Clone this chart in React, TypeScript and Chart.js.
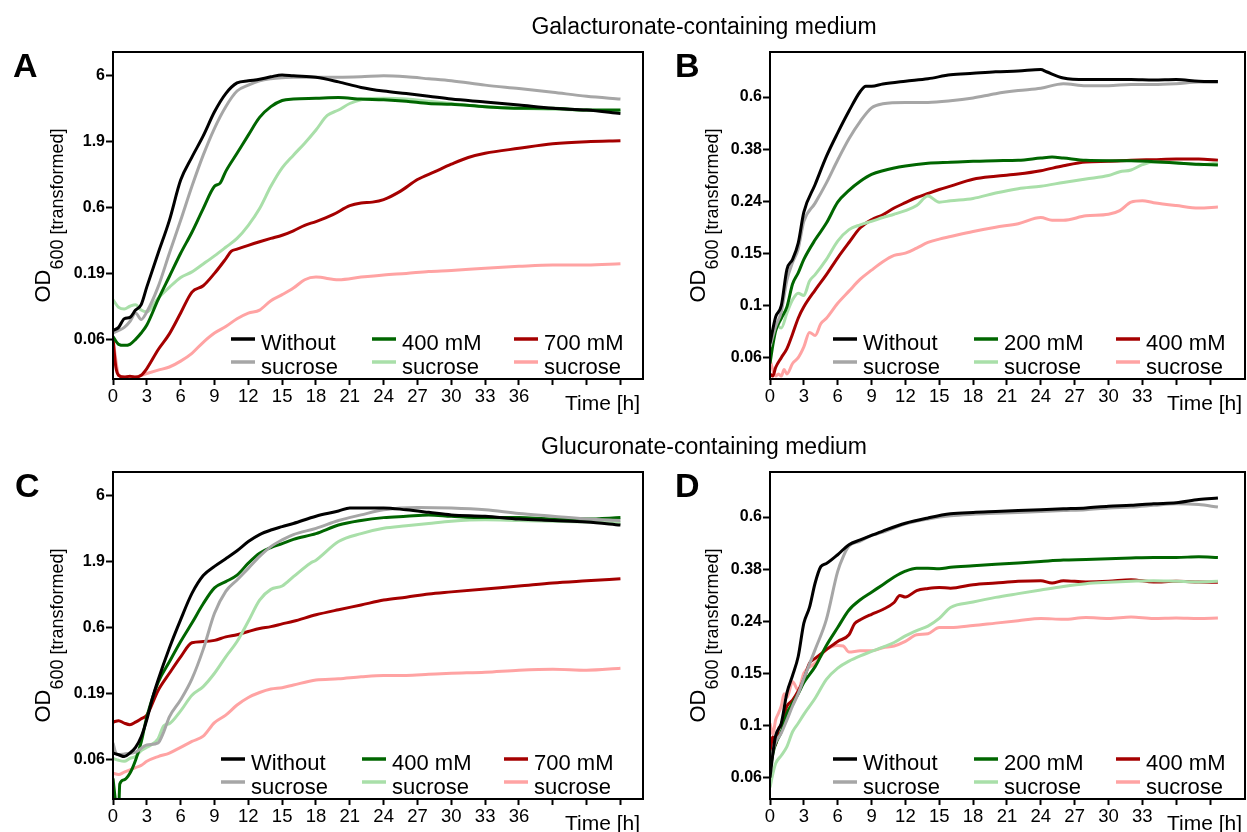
import React, { useEffect, useRef } from 'react';
import { Chart, registerables } from 'chart.js';

Chart.register(...registerables);

type Pt = [number, number];

const FONT = '"Liberation Sans", Arial, Helvetica, sans-serif';

// ---------- labels & ticks ----------
const labelsGal = ['Without', 'sucrose', '400 mM', 'sucrose', '700 mM', 'sucrose'];
const labelsGalB = ['Without', 'sucrose', '200 mM', 'sucrose', '400 mM', 'sucrose'];
const labelsGlc = ['Without', 'sucrose', '400 mM', 'sucrose', '700 mM', 'sucrose'];
const labelsGlcD = ['Without', 'sucrose', '200 mM', 'sucrose', '400 mM', 'sucrose'];

const seriesColors = ['#000000', '#a6a6a6', '#006600', '#a9dfa9', '#a50000', '#ffa3a3'];

const xTicksAC = [0, 3, 6, 9, 12, 15, 18, 21, 24, 27, 30, 33, 36, 39, 42, 45];
const xTicksBD = [0, 3, 6, 9, 12, 15, 18, 21, 24, 27, 30, 33, 36, 39];

const yTicksAC = [0.06, 0.1897, 0.6, 1.897, 6];
const yTickLabelsAC = ['0.06', '0.19', '0.6', '1.9', '6'];
const yTicksBD = [0.06, 0.0951, 0.1507, 0.2389, 0.3786, 0.6];
const yTickLabelsBD = ['0.06', '0.1', '0.15', '0.24', '0.38', '0.6'];

// ---------- Panel A (galacturonate, 400/700 mM) ----------
const A_without: Pt[] = [[0,0.070],[0.5,0.074],[1,0.086],[1.5,0.088],[2,0.10],[2.5,0.11],[3,0.15],[4,0.27],[5,0.48],[6,0.97],[7,1.45],[8,2.1],[9,3.2],[10,4.4],[11,5.3],[12,5.5],[13,5.65],[14,5.9],[15,6.1],[16,6.0],[18,5.85],[20,5.4],[22,4.9],[24,4.6],[26,4.4],[28,4.2],[30,4.0],[33,3.8],[36,3.6],[39,3.4],[42,3.3],[45,3.1]];
const A_withoutB: Pt[] = [[0,0.067],[0.5,0.07],[1,0.074],[1.5,0.082],[2,0.095],[2.5,0.085],[3,0.097],[4,0.15],[5,0.27],[6,0.48],[7,0.87],[8,1.5],[9,2.4],[10,3.5],[11,4.6],[12,5.1],[13,5.5],[14,5.7],[15,5.8],[16,5.85],[18,5.85],[20,5.85],[22,5.9],[24,6.0],[26,5.9],[28,5.7],[30,5.5],[33,5.1],[36,4.8],[39,4.5],[42,4.2],[45,4.0]];
const A_mid: Pt[] = [[0,0.063],[0.5,0.055],[1,0.054],[1.5,0.055],[2,0.06],[2.5,0.067],[3,0.077],[4,0.12],[5,0.18],[6,0.27],[7,0.39],[8,0.59],[9,0.87],[9.5,0.92],[10,1.13],[11,1.55],[12,2.13],[13,2.9],[14,3.5],[15,3.9],[16,4.0],[18,4.05],[20,4.1],[22,4.0],[24,3.95],[26,3.85],[28,3.7],[30,3.65],[33,3.5],[36,3.4],[39,3.4],[42,3.3],[45,3.3]];
const A_midB: Pt[] = [[0,0.12],[0.5,0.105],[1,0.102],[1.5,0.107],[2,0.11],[2.5,0.10],[3,0.097],[4,0.123],[5,0.149],[6,0.177],[7,0.195],[8,0.224],[9,0.258],[10,0.30],[11,0.35],[12,0.44],[13,0.59],[14,0.87],[15,1.2],[16,1.5],[17,1.85],[18,2.33],[19,3.0],[20,3.3],[21,3.7],[22,3.95],[24,4.05],[26,4.0],[28,3.85],[30,3.7],[33,3.5],[36,3.4],[39,3.35],[42,3.3],[45,3.2]];
const A_high: Pt[] = [[0,0.061],[0.25,0.037],[0.5,0.032],[1,0.031],[1.5,0.0315],[2,0.031],[2.5,0.032],[3,0.036],[4,0.05],[5,0.066],[6,0.095],[7,0.137],[8,0.153],[9,0.19],[10,0.245],[10.5,0.28],[11,0.29],[12,0.31],[13,0.33],[14,0.35],[15,0.37],[16,0.4],[17,0.44],[18,0.47],[19.5,0.53],[21,0.62],[22,0.65],[23,0.66],[24,0.69],[25.5,0.8],[27,0.98],[28.5,1.12],[30,1.28],[31.5,1.44],[33,1.55],[36,1.69],[39,1.83],[42,1.9],[45,1.93]];
const A_highB: Pt[] = [[0,0.061],[0.25,0.042],[0.5,0.032],[1,0.031],[1.5,0.031],[2,0.031],[2.5,0.032],[3,0.033],[4,0.035],[5,0.037],[6,0.041],[7,0.047],[8,0.057],[9,0.067],[10,0.075],[11,0.086],[12,0.095],[13,0.10],[14,0.118],[15,0.131],[16,0.147],[17,0.17],[18,0.178],[20,0.17],[22,0.178],[24,0.185],[26,0.19],[28,0.196],[30,0.2],[33,0.208],[36,0.215],[39,0.22],[42,0.22],[45,0.225]];

// ---------- Panel B (galacturonate, 200/400 mM) ----------
const B_without: Pt[] = [[0,0.068],[0.5,0.086],[1,0.095],[1.5,0.131],[2,0.143],[2.5,0.165],[3,0.217],[4,0.277],[5,0.355],[6,0.437],[7,0.53],[8,0.63],[8.5,0.66],[9,0.66],[10,0.673],[12,0.69],[14,0.705],[16,0.73],[18,0.74],[20,0.75],[22,0.755],[24,0.765],[24.5,0.75],[26,0.71],[28,0.70],[30,0.70],[32,0.70],[34,0.697],[36,0.70],[38,0.69],[39.7,0.688]];
const B_withoutB: Pt[] = [[0,0.066],[0.5,0.079],[1,0.09],[1.5,0.119],[2,0.139],[2.5,0.157],[3,0.2],[4,0.235],[5,0.281],[6,0.344],[7,0.415],[8,0.484],[9,0.545],[10,0.565],[12,0.572],[14,0.572],[16,0.58],[18,0.595],[20,0.618],[22,0.635],[24,0.648],[26,0.675],[28,0.663],[30,0.663],[32,0.67],[34,0.67],[36,0.675],[38,0.685],[39.7,0.683]];
const B_mid: Pt[] = [[0,0.057],[0.25,0.067],[0.5,0.076],[1,0.085],[1.5,0.094],[2,0.115],[2.5,0.127],[3,0.143],[4,0.17],[5,0.197],[6,0.237],[7,0.263],[8,0.285],[9,0.303],[10,0.313],[12,0.326],[14,0.334],[16,0.337],[18,0.34],[20,0.342],[22,0.343],[24,0.35],[25,0.353],[26,0.35],[28,0.343],[30,0.342],[32,0.342],[34,0.339],[36,0.335],[38,0.331],[39.7,0.329]];
const B_midB: Pt[] = [[0,0.062],[0.25,0.07],[0.5,0.082],[0.75,0.079],[1,0.078],[1.5,0.089],[2,0.10],[2.5,0.106],[3,0.104],[3.5,0.118],[4,0.125],[5,0.143],[6,0.168],[7,0.186],[8,0.194],[9,0.20],[10,0.207],[11,0.213],[12,0.22],[13,0.23],[14,0.25],[15,0.237],[16,0.24],[18,0.245],[20,0.257],[22,0.267],[24,0.273],[26,0.282],[28,0.291],[30,0.30],[31,0.31],[32,0.315],[33,0.33],[34,0.338],[36,0.336],[38,0.33],[39.7,0.335]];
const B_high: Pt[] = [[0,0.052],[0.25,0.051],[0.5,0.055],[1,0.06],[1.5,0.065],[2,0.074],[2.5,0.085],[3,0.094],[4,0.109],[5,0.125],[6,0.145],[7,0.166],[8,0.189],[9,0.203],[10,0.212],[11,0.225],[12,0.236],[13,0.247],[14,0.256],[15,0.265],[16,0.273],[18,0.29],[20,0.298],[22,0.304],[24,0.313],[26,0.327],[28,0.338],[30,0.34],[32,0.343],[34,0.345],[36,0.347],[38,0.347],[39.7,0.343]];
const B_highB: Pt[] = [[0,0.059],[0.25,0.054],[0.5,0.051],[0.75,0.052],[1,0.051],[1.25,0.054],[1.5,0.052],[2,0.057],[2.5,0.06],[3,0.066],[3.5,0.075],[4,0.073],[4.5,0.081],[5,0.085],[6,0.097],[7,0.108],[8,0.12],[9,0.13],[10,0.14],[11,0.148],[12,0.151],[13,0.158],[14,0.166],[15,0.171],[16,0.175],[18,0.183],[20,0.19],[22,0.196],[24,0.207],[25,0.202],[26,0.202],[28,0.21],[30,0.213],[31,0.22],[32,0.237],[33,0.24],[34,0.236],[36,0.23],[38,0.225],[39.7,0.227]];

// ---------- Panel C (glucuronate, 400/700 mM) ----------
const C_without: Pt[] = [[0,0.067],[0.5,0.065],[1,0.063],[1.5,0.067],[2,0.074],[2.5,0.089],[3,0.12],[3.5,0.175],[4,0.24],[5,0.42],[6,0.69],[7,1.09],[8,1.49],[9,1.75],[10,2.0],[11,2.3],[12,2.7],[13,3.05],[14,3.3],[15,3.5],[16,3.7],[18,4.2],[20,4.6],[21,4.86],[22,4.86],[24,4.86],[26,4.7],[28,4.5],[30,4.3],[33,4.2],[36,4.0],[39,3.9],[42,3.8],[45,3.6]];
const C_withoutB: Pt[] = [[0,0.08],[0.25,0.067],[0.5,0.065],[1,0.066],[2,0.068],[3,0.077],[4,0.08],[4.5,0.097],[5,0.126],[6,0.17],[7,0.245],[8,0.41],[9,0.77],[10,1.13],[11,1.38],[12,1.69],[13,2.08],[14,2.47],[15,2.78],[16,3.05],[18,3.4],[20,3.9],[22,4.3],[24,4.7],[27,4.9],[30,4.85],[33,4.7],[36,4.4],[39,4.2],[42,4.0],[45,3.9]];
const C_mid: Pt[] = [[0,0.043],[0.25,0.028],[0.5,0.025],[0.6,0.039],[1,0.042],[1.5,0.047],[2,0.059],[2.5,0.081],[3,0.126],[4,0.23],[5,0.33],[6,0.47],[7,0.65],[8,0.91],[9,1.2],[10,1.34],[11,1.5],[12,1.85],[13,2.2],[14,2.43],[15,2.6],[16,2.8],[18,3.1],[20,3.6],[22,3.9],[24,4.1],[26,4.2],[28,4.3],[30,4.2],[33,4.1],[36,4.1],[39,4.0],[42,4.0],[45,4.1]];
const C_midB: Pt[] = [[0,0.061],[0.5,0.059],[1,0.058],[1.5,0.061],[2,0.063],[2.5,0.07],[3,0.074],[4,0.086],[4.5,0.108],[5,0.112],[6,0.14],[7,0.184],[8,0.214],[9,0.27],[10,0.36],[11,0.47],[12,0.67],[13,0.97],[14,1.17],[15,1.24],[16,1.46],[17.5,1.85],[18,1.95],[20,2.7],[22,3.1],[24,3.4],[26,3.55],[28,3.7],[30,3.85],[33,3.95],[36,3.9],[39,3.85],[42,3.8],[45,3.75]];
const C_high: Pt[] = [[0,0.115],[0.5,0.118],[1,0.113],[1.5,0.11],[2,0.115],[2.5,0.122],[3,0.13],[4,0.2],[5,0.27],[6,0.36],[7,0.46],[8,0.47],[9,0.48],[10,0.51],[11,0.53],[12,0.56],[13,0.59],[14,0.61],[15,0.64],[16,0.67],[18,0.75],[20,0.82],[22,0.89],[24,0.97],[26,1.02],[28,1.08],[30,1.12],[33,1.18],[36,1.24],[39,1.31],[42,1.36],[45,1.41]];
const C_highB: Pt[] = [[0,0.047],[0.5,0.046],[1,0.048],[1.5,0.05],[2,0.052],[2.5,0.054],[3,0.058],[4,0.063],[5,0.067],[6,0.074],[7,0.082],[8,0.09],[9,0.114],[10,0.13],[11,0.155],[12,0.177],[13,0.193],[14,0.205],[15,0.21],[16,0.22],[18,0.24],[20,0.245],[22,0.254],[24,0.26],[26,0.26],[28,0.265],[30,0.27],[33,0.275],[36,0.285],[39,0.29],[42,0.285],[45,0.295]];

// ---------- Panel D (glucuronate, 200/400 mM) ----------
const D_without: Pt[] = [[0,0.06],[0.25,0.074],[0.5,0.087],[1,0.097],[1.5,0.127],[2,0.148],[2.5,0.175],[3,0.235],[3.5,0.27],[4,0.335],[4.5,0.387],[5,0.398],[6,0.43],[7,0.47],[8,0.49],[9,0.51],[10,0.53],[12,0.568],[14,0.595],[16,0.617],[18,0.625],[20,0.63],[22,0.635],[24,0.64],[26,0.645],[28,0.65],[30,0.66],[32,0.665],[34,0.675],[36,0.68],[38,0.70],[39.7,0.71]];
const D_withoutB: Pt[] = [[0,0.07],[0.5,0.082],[1,0.089],[1.5,0.10],[2,0.113],[2.5,0.126],[3,0.144],[4,0.186],[5,0.243],[6,0.371],[6.5,0.424],[7,0.464],[8,0.485],[9,0.51],[10,0.525],[12,0.565],[14,0.59],[16,0.607],[18,0.615],[20,0.62],[22,0.625],[24,0.63],[26,0.635],[28,0.64],[30,0.65],[32,0.655],[34,0.665],[36,0.675],[38,0.67],[39.7,0.655]];
const D_mid: Pt[] = [[0,0.064],[0.25,0.074],[0.5,0.081],[1,0.09],[1.5,0.106],[2,0.116],[2.5,0.126],[3,0.139],[4,0.16],[5,0.193],[6,0.226],[7,0.264],[8,0.289],[9,0.309],[10,0.33],[11,0.353],[12,0.372],[13,0.382],[14,0.382],[15,0.38],[16,0.385],[18,0.39],[20,0.395],[22,0.40],[24,0.405],[26,0.41],[28,0.412],[30,0.415],[32,0.418],[34,0.42],[36,0.42],[38,0.422],[39.7,0.42]];
const D_midB: Pt[] = [[0,0.055],[0.25,0.062],[0.5,0.068],[1,0.073],[1.5,0.079],[2,0.09],[2.5,0.097],[3,0.105],[4,0.121],[5,0.143],[6,0.158],[7,0.168],[8,0.176],[9,0.183],[10,0.19],[11,0.198],[12,0.21],[13,0.22],[14,0.229],[15,0.245],[16,0.27],[18,0.283],[20,0.295],[22,0.305],[24,0.315],[26,0.325],[28,0.333],[30,0.337],[32,0.34],[34,0.342],[36,0.34],[38,0.338],[39.7,0.34]];
const D_high: Pt[] = [[0,0.074],[0.25,0.086],[0.5,0.08],[0.75,0.092],[1,0.096],[1.5,0.113],[2,0.119],[2.5,0.129],[3,0.143],[3.5,0.165],[4,0.172],[5,0.186],[6,0.2],[7,0.212],[7.5,0.234],[8,0.242],[9,0.254],[10,0.265],[11,0.282],[11.5,0.3],[12,0.296],[13,0.313],[14,0.319],[15,0.322],[16,0.32],[18,0.33],[20,0.335],[22,0.34],[24,0.342],[25,0.335],[26,0.342],[28,0.338],[30,0.34],[32,0.345],[34,0.338],[36,0.34],[38,0.338],[39.7,0.337]];
const D_highB: Pt[] = [[0,0.097],[0.25,0.088],[0.5,0.10],[0.75,0.106],[1,0.113],[1.25,0.126],[1.5,0.122],[2,0.14],[2.5,0.13],[3,0.151],[4,0.165],[5,0.186],[6,0.193],[6.5,0.192],[7,0.182],[8,0.184],[9,0.184],[10,0.189],[11,0.192],[12,0.2],[13,0.212],[14,0.214],[15,0.226],[16,0.226],[18,0.23],[20,0.235],[22,0.24],[24,0.245],[26,0.243],[28,0.247],[30,0.245],[32,0.248],[34,0.245],[36,0.246],[38,0.245],[39.7,0.246]];

interface PanelCfg {
  letter: string;
  left: number;
  top: number;
  width: number;
  height: number;
  yAxisWidth: number;
  padRight: number;
  xMax: number;
  xTicks: number[];
  xLabelMax: number;
  yMin: number;
  yMax: number;
  yTicks: number[];
  yTickLabels: string[];
  labels: string[];
  series: Pt[][];
  legendShift: number;
  letterX: number;
  titleX: number;
}

const panels: PanelCfg[] = [
  { letter: 'A', left: 0, top: 0, width: 650, height: 420, yAxisWidth: 113, padRight: 7, xMax: 47, xTicks: xTicksAC, xLabelMax: 36, yMin: 0.03, yMax: 9.1, yTicks: yTicksAC, yTickLabels: yTickLabelsAC, labels: labelsGal, series: [A_without, A_withoutB, A_mid, A_midB, A_high, A_highB], legendShift: 0, letterX: 13, titleX: 50 },
  { letter: 'B', left: 650, top: 0, width: 597, height: 420, yAxisWidth: 120, padRight: 2, xMax: 42.1, xTicks: xTicksBD, xLabelMax: 33, yMin: 0.0497, yMax: 0.893, yTicks: yTicksBD, yTickLabels: yTickLabelsBD, labels: labelsGalB, series: [B_without, B_withoutB, B_mid, B_midB, B_high, B_highB], legendShift: 0, letterX: 25, titleX: 55 },
  { letter: 'C', left: 0, top: 420, width: 650, height: 420, yAxisWidth: 113, padRight: 7, xMax: 47, xTicks: xTicksAC, xLabelMax: 36, yMin: 0.03, yMax: 9.1, yTicks: yTicksAC, yTickLabels: yTickLabelsAC, labels: labelsGlc, series: [C_without, C_withoutB, C_mid, C_midB, C_high, C_highB], legendShift: -10, letterX: 15, titleX: 50 },
  { letter: 'D', left: 650, top: 420, width: 597, height: 420, yAxisWidth: 120, padRight: 2, xMax: 42.1, xTicks: xTicksBD, xLabelMax: 33, yMin: 0.0497, yMax: 0.893, yTicks: yTicksBD, yTickLabels: yTickLabelsBD, labels: labelsGlcD, series: [D_without, D_withoutB, D_mid, D_midB, D_high, D_highB], legendShift: 0, letterX: 25, titleX: 55 },
];

function makeOverlay(cfg: PanelCfg) {
  return {
    id: 'overlay' + cfg.letter,
    afterDraw(chart: any) {
      const ctx: CanvasRenderingContext2D = chart.ctx;
      const ca = chart.chartArea;
      ctx.save();
      // frame
      ctx.strokeStyle = '#000';
      ctx.lineWidth = 2;
      ctx.strokeRect(ca.left, ca.top, ca.right - ca.left, ca.bottom - ca.top);
      // legend: 3 columns x 2 rows
      const cols = [-412, -271, -129];
      chart.data.datasets.forEach((ds: any, i: number) => {
        const col = Math.floor(i / 2);
        const row = i % 2;
        const x = ca.right + cols[col] + cfg.legendShift;
        const ys = ca.bottom - 40 + row * 23;
        ctx.strokeStyle = ds.borderColor;
        ctx.lineWidth = 3.5;
        ctx.beginPath();
        ctx.moveTo(x, ys);
        ctx.lineTo(x + 24, ys);
        ctx.stroke();
        ctx.fillStyle = '#000';
        ctx.font = `22px ${FONT}`;
        ctx.textAlign = 'left';
        ctx.textBaseline = 'alphabetic';
        ctx.fillText(ds.label, x + 30, ca.bottom - 29 + row * 24);
      });
      // x axis title
      ctx.fillStyle = '#000';
      ctx.font = `21px ${FONT}`;
      ctx.textAlign = 'right';
      ctx.textBaseline = 'alphabetic';
      ctx.fillText('Time [h]', ca.right - 3, ca.bottom + 31);
      // panel letter
      ctx.font = `bold 34px ${FONT}`;
      ctx.textAlign = 'left';
      ctx.fillText(cfg.letter, cfg.letterX, 77);
      // y axis title
      ctx.save();
      ctx.translate(cfg.titleX, (ca.top + ca.bottom) / 2);
      ctx.rotate(-Math.PI / 2);
      ctx.font = `22px ${FONT}`;
      const w1 = ctx.measureText('OD').width;
      ctx.font = `18px ${FONT}`;
      const w2 = ctx.measureText('600 [transformed]').width;
      const total = w1 + w2;
      ctx.font = `22px ${FONT}`;
      ctx.fillText('OD', -total / 2, 0);
      ctx.font = `18px ${FONT}`;
      ctx.fillText('600 [transformed]', -total / 2 + w1, 13);
      ctx.restore();
      ctx.restore();
    },
  };
}

function Panel({ cfg }: { cfg: PanelCfg }) {
  const ref = useRef<HTMLCanvasElement | null>(null);
  useEffect(() => {
    if (!ref.current) return;
    const datasets = cfg.series.map((s, i) => ({
      label: cfg.labels[i],
      data: s.map(([x, y]) => ({ x, y })),
      borderColor: seriesColors[i],
      backgroundColor: seriesColors[i],
      borderWidth: 3,
      pointRadius: 0,
      fill: false,
      cubicInterpolationMode: 'monotone' as const,
    }));
    const chart = new Chart(ref.current, {
      type: 'line',
      data: { datasets },
      plugins: [makeOverlay(cfg)],
      options: {
        responsive: false,
        animation: false,
        devicePixelRatio: 1,
        layout: { padding: { left: 0, right: cfg.padRight, top: 52, bottom: 0 } },
        plugins: { legend: { display: false }, tooltip: { enabled: false }, title: { display: false } },
        scales: {
          x: {
            type: 'linear',
            min: 0,
            max: cfg.xMax,
            afterBuildTicks: (s: any) => { s.ticks = cfg.xTicks.map((v) => ({ value: v })); },
            afterFit: (s: any) => { s.height = 41; },
            ticks: {
              autoSkip: false,
              maxRotation: 0,
              padding: 1,
              color: '#000',
              font: { family: FONT, size: 18.5 },
              callback: (v: any) => (Number(v) <= cfg.xLabelMax ? String(v) : ''),
            },
            grid: { display: true, drawOnChartArea: false, drawTicks: true, tickLength: 6, tickWidth: 2, tickColor: '#000', color: '#000' },
            border: { display: false },
          },
          y: {
            type: 'logarithmic',
            min: cfg.yMin,
            max: cfg.yMax,
            afterBuildTicks: (s: any) => { s.ticks = cfg.yTicks.map((v) => ({ value: v })); },
            afterFit: (s: any) => { s.width = cfg.yAxisWidth; },
            ticks: {
              autoSkip: false,
              padding: 1,
              color: '#000',
              font: { family: FONT, size: 16, weight: 'bold' },
              callback: (_v: any, idx: number) => cfg.yTickLabels[idx],
            },
            grid: { display: true, drawOnChartArea: false, drawTicks: true, tickLength: 7, tickWidth: 2, tickColor: '#000', color: '#000' },
            border: { display: false },
          },
        },
      } as any,
    });
    return () => chart.destroy();
  }, [cfg]);
  return (
    <canvas
      ref={ref}
      width={cfg.width}
      height={cfg.height}
      style={{ position: 'absolute', left: cfg.left, top: cfg.top, width: cfg.width, height: cfg.height }}
    />
  );
}

export default function App() {
  const titleStyle: React.CSSProperties = {
    position: 'absolute',
    left: 704,
    transform: 'translateX(-50%)',
    whiteSpace: 'nowrap',
    fontFamily: FONT,
    fontSize: 23,
    lineHeight: '23px',
    color: '#000',
  };
  return (
    <div style={{ position: 'absolute', left: 0, top: 0, width: 1247, height: 832, overflow: 'hidden', background: '#fff' }}>
      {panels.map((p) => (
        <Panel key={p.letter} cfg={p} />
      ))}
      <div style={{ ...titleStyle, top: 14.8 }}>Galacturonate-containing medium</div>
      <div style={{ ...titleStyle, top: 434.8 }}>Glucuronate-containing medium</div>
    </div>
  );
}
